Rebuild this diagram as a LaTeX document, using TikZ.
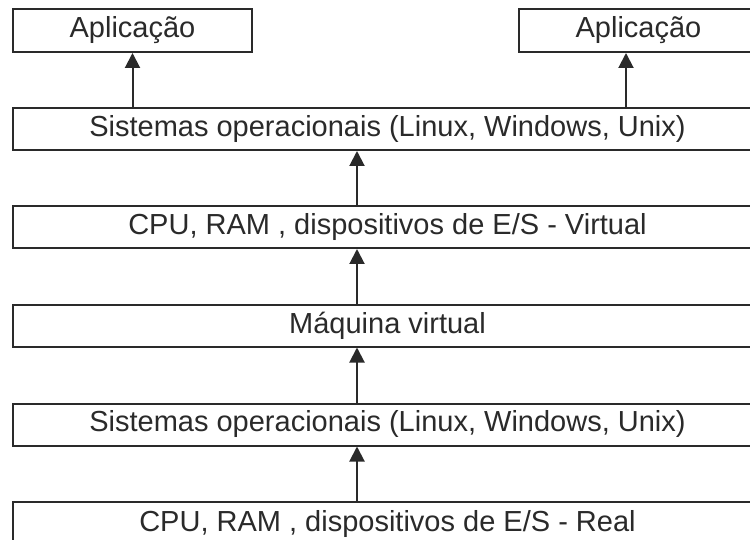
\documentclass[tikz,border=0pt]{standalone}
\usepackage{fontspec}
\setmainfont{Liberation Sans}
\usetikzlibrary{arrows.meta}
\definecolor{ink}{HTML}{2A2A2A}
\tikzset{
  layer/.style={draw=ink, line width=2pt, fill=white, rectangle, inner sep=0pt,
    minimum height=42pt, text=ink, font=\fontsize{29}{32}\selectfont},
  wide/.style={layer, minimum width=749pt},
  app/.style={layer, minimum width=239pt, minimum height=43pt},
  arr/.style={draw=ink, line width=2pt, -{Triangle[width=15pt,length=15pt]}}
}
\begin{document}
\begin{tikzpicture}[x=1pt,y=-1pt]
\useasboundingbox (0,0) rectangle (750,540);
\fill[white] (0,0) rectangle (750,540);
\clip (0,0) rectangle (750,540);
\node[app] (appL) at (132.5,30.5) {Aplicação};
\node[app] (appR) at (638.5,30.5) {Aplicação};
\node[wide] (so1) at (387.5,129) {Sistemas operacionais (Linux, Windows, Unix)};
\node[wide] (cpuv) at (387.5,227) {CPU, RAM , dispositivos de E/S - Virtual};
\node[wide] (mv) at (387.5,325.5) {Máquina virtual};
\node[wide] (so2) at (387.5,424.5) {Sistemas operacionais (Linux, Windows, Unix)};
\node[wide, minimum height=44pt] (cpur) at (387.5,524) {CPU, RAM , dispositivos de E/S - Real};
\draw[arr] (so1.north -| appL.south) -- (appL.south);
\draw[arr] ([xshift=-12.5pt]appR.south |- so1.north) -- ([xshift=-12.5pt]appR.south);
\draw[arr] ([xshift=-30.5pt]cpuv.north) -- ([xshift=-30.5pt]so1.south);
\draw[arr] ([xshift=-30.5pt]mv.north) -- ([xshift=-30.5pt]cpuv.south);
\draw[arr] ([xshift=-30.5pt]so2.north) -- ([xshift=-30.5pt]mv.south);
\draw[arr] ([xshift=-30.5pt]cpur.north) -- ([xshift=-30.5pt]so2.south);
\end{tikzpicture}
\end{document}
